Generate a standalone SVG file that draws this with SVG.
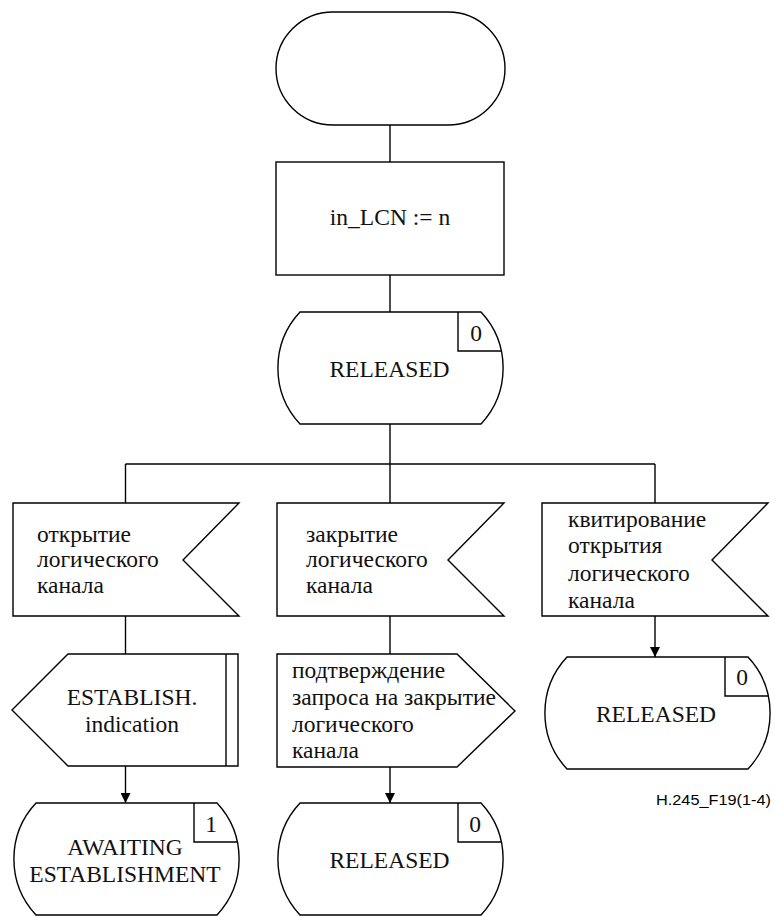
<svg xmlns="http://www.w3.org/2000/svg" width="775" height="917" viewBox="0 0 775 917">
<style>
.s{fill:#fff;stroke:#000;stroke-width:1.4;stroke-linejoin:miter}
.c{fill:none;stroke:#000;stroke-width:1.4}
.t{font-family:"Liberation Serif","DejaVu Serif","Times New Roman",serif;font-size:23.5px;fill:#111}
.m{text-anchor:middle}
.lbl{font-family:"Liberation Sans",Arial,sans-serif;font-size:15.5px;fill:#000}
</style>
<defs>
<marker id="ah" markerUnits="userSpaceOnUse" markerWidth="10" markerHeight="10" viewBox="0 0 10 10" refX="10" refY="5" orient="auto">
<path d="M0,0 L10,5 L0,10 Z" fill="#000"/>
</marker>
<path id="st" d="M24,0 H205 A82,82 0 0 1 205,112 H24 A82,82 0 0 1 24,0 Z"/>
</defs>

<g id="connectors">
<line class="c" x1="390" y1="125" x2="390" y2="162"/>
<line class="c" x1="390" y1="275" x2="390" y2="312"/>
<line class="c" x1="390" y1="424" x2="390" y2="503"/>
<line class="c" x1="125.5" y1="464" x2="655" y2="464"/>
<line class="c" x1="125.5" y1="464" x2="125.5" y2="503"/>
<line class="c" x1="655" y1="464" x2="655" y2="503"/>
<line class="c" x1="125.5" y1="616" x2="125.5" y2="654"/>
<line class="c" x1="125.5" y1="766" x2="125.5" y2="803" marker-end="url(#ah)"/>
<line class="c" x1="390" y1="616" x2="390" y2="654"/>
<line class="c" x1="390" y1="767" x2="390" y2="803" marker-end="url(#ah)"/>
<line class="c" x1="655" y1="616" x2="655" y2="657" marker-end="url(#ah)"/>
</g>

<g id="start">
<rect class="s" x="276" y="12" width="229" height="113" rx="57" ry="56.5"/>
</g>

<g id="task">
<rect class="s" x="276" y="162" width="228" height="113"/>
<text class="t m" x="390" y="225">in_LCN := n</text>
</g>

<g id="state-released-top" transform="translate(276,312)">
<use href="#st" class="s"/>
<path class="c" d="M182,0 V39 H225"/>
<text class="t m" x="200" y="28.5">0</text>
<text class="t m" x="113.5" y="64.5">RELEASED</text>
</g>

<g id="input-open">
<polygon class="s" points="13,503 239,503 183,560 239,616 13,616"/>
<text class="t" x="37" y="542">открытие</text>
<text class="t" x="37" y="567">логического</text>
<text class="t" x="37" y="592.5">канала</text>
</g>

<g id="input-close">
<polygon class="s" points="277,503 504,503 448,560 504,616 277,616"/>
<text class="t" x="306" y="542">закрытие</text>
<text class="t" x="306" y="567">логического</text>
<text class="t" x="306" y="593">канала</text>
</g>

<g id="input-ack">
<polygon class="s" points="542,503 768,503 712,560 768,616 542,616"/>
<text class="t" x="568" y="527">квитирование</text>
<text class="t" x="568" y="553">открытия</text>
<text class="t" x="568" y="580.5">логического</text>
<text class="t" x="568" y="608">канала</text>
</g>

<g id="output-establish">
<polygon class="s" points="12,710 68,654 238,654 238,766 68,766"/>
<line class="c" x1="226" y1="654" x2="226" y2="766"/>
<text class="t m" x="132" y="705">ESTABLISH.</text>
<text class="t m" x="132" y="731.5">indication</text>
</g>

<g id="output-close-confirm">
<polygon class="s" points="277,654 457,654 515,711 457,767 277,767"/>
<text class="t" x="292" y="678">подтверждение</text>
<text class="t" x="292" y="705">запроса на закрытие</text>
<text class="t" x="292" y="731.5">логического</text>
<text class="t" x="292" y="758">канала</text>
</g>

<g id="state-awaiting" transform="translate(12,803)">
<use href="#st" class="s"/>
<path class="c" d="M182,0 V39 H225"/>
<text class="t m" x="199" y="29">1</text>
<text class="t m" x="113" y="52">AWAITING</text>
<text class="t m" x="113" y="79">ESTABLISHMENT</text>
</g>

<g id="state-released-mid" transform="translate(276,803)">
<use href="#st" class="s"/>
<path class="c" d="M182,0 V39 H225"/>
<text class="t m" x="199" y="29">0</text>
<text class="t m" x="113.5" y="65">RELEASED</text>
</g>

<g id="state-released-right" transform="translate(543,657)">
<use href="#st" class="s"/>
<path class="c" d="M182,0 V39 H225"/>
<text class="t m" x="199" y="28">0</text>
<text class="t m" x="113" y="65">RELEASED</text>
</g>

<text class="lbl" x="656" y="805" textLength="115" lengthAdjust="spacingAndGlyphs">H.245_F19(1-4)</text>
</svg>
